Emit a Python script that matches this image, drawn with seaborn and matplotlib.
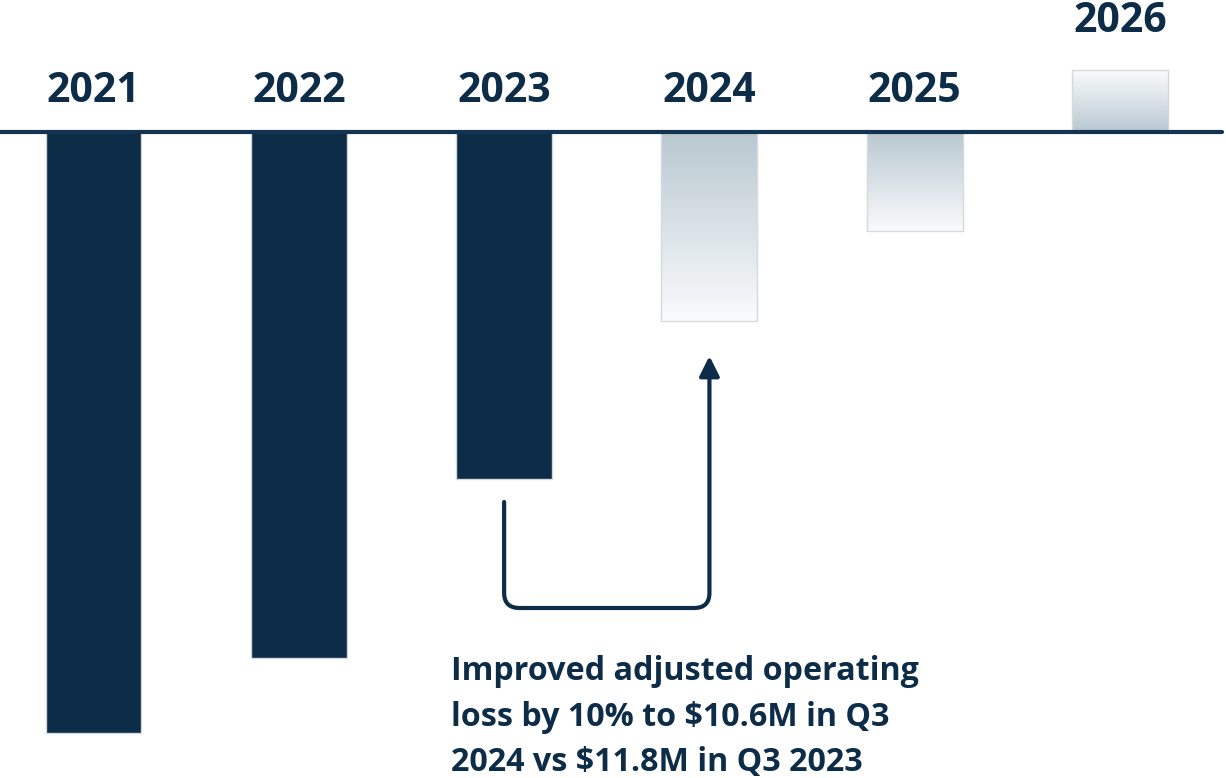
import numpy as np
import pandas as pd
import matplotlib
matplotlib.use("Agg")
import matplotlib.pyplot as plt
import seaborn as sns
from matplotlib.colors import LinearSegmentedColormap
from matplotlib.path import Path
from matplotlib.patches import PathPatch

# ---- data (arbitrary units; negative = operating loss) ----
years = ["2021", "2022", "2023", "2024", "2025", "2026"]
values = [-60.1, -52.6, -34.7, -18.9, -9.9, 6.2]
projected = [False, False, False, True, True, True]
note_lines = ["Improved adjusted operating",
              "loss by 10% to $10.6M in Q3",
              "2024 vs $11.8M in Q3 2023"]

NAVY = "#0d2c47"
LINE = "#13334f"

sns.set_theme(style="white")
plt.rcParams["font.family"] = ["Open Sans", "DejaVu Sans"]

fig = plt.figure(figsize=(12.26, 7.78), dpi=100)
ax = fig.add_axes([0, 0, 1, 1])

df = pd.DataFrame({"year": years, "value": values})
sns.barplot(data=df, x="year", y="value", color=NAVY, saturation=1,
            width=0.467, ax=ax, edgecolor="#d3d8dc", linewidth=1.0)

cmap = LinearSegmentedColormap.from_list("proj", ["#fafbfc", "#b9c8d1"])
grad = np.linspace(0, 1, 256).reshape(-1, 1)
for patch, val, proj in zip(ax.patches, values, projected):
    if not proj:
        continue
    patch.set_facecolor("none")
    patch.set_edgecolor("#d6dadd")
    x0 = patch.get_x()
    x1 = x0 + patch.get_width()
    if val < 0:
        arr = grad            # light at far end (bottom), dark at baseline
        ext = (x0, x1, val, 0)
    else:
        arr = grad[::-1]      # dark at baseline, light at top
        ext = (x0, x1, 0, val)
    im = ax.imshow(arr, cmap=cmap, extent=ext, origin="lower",
                   aspect="auto", zorder=patch.get_zorder() - 0.1,
                   interpolation="bicubic")
    im.set_clip_path(patch)

# baseline
ax.axhline(0, color=LINE, lw=3, zorder=5, xmax=0.997)

# year labels above baseline / above positive bar
for i, (yr, val) in enumerate(zip(years, values)):
    top = max(val, 0)
    ax.text(i, top + 4.0 if val < 0 else top + 4.8, yr, ha="center", va="center",
            fontsize=29.5, fontweight="bold", color=NAVY)

# connector arrow from 2023 bar to 2024 bar
i0, i1 = 2, 3
y_start = values[i0] - 2.3
y_low = -47.6
y_end = values[i1] - 3.5
rx, ry = 0.075, 1.5
verts = [(i0, y_start), (i0, y_low + ry), (i0, y_low), (i0 + rx, y_low),
         (i1 - rx, y_low), (i1, y_low), (i1, y_low + ry), (i1, y_end - 1.5)]
codes = [Path.MOVETO, Path.LINETO, Path.CURVE3, Path.CURVE3,
         Path.LINETO, Path.CURVE3, Path.CURVE3, Path.LINETO]
ax.add_patch(PathPatch(Path(verts, codes), fill=False, edgecolor=NAVY,
                       lw=3, capstyle="round", zorder=6))
ax.annotate("", xy=(i1, y_end), xytext=(i1, y_end - 1.8),
            arrowprops=dict(arrowstyle="-|>,head_length=1.0,head_width=0.5",
                            color=NAVY, lw=3, shrinkA=0, shrinkB=0), zorder=6)

# note text
for k, line in enumerate(note_lines):
    ax.text(1.74, -53.9 - 4.6 * k, line, ha="left", va="center",
            fontsize=23.2, fontweight="bold", color=NAVY)

ax.set_xlim(-0.4554, 5.516)
ax.set_ylim(-64.6, 13.2)
ax.axis("off")

fig.savefig("out.png", dpi=100)
